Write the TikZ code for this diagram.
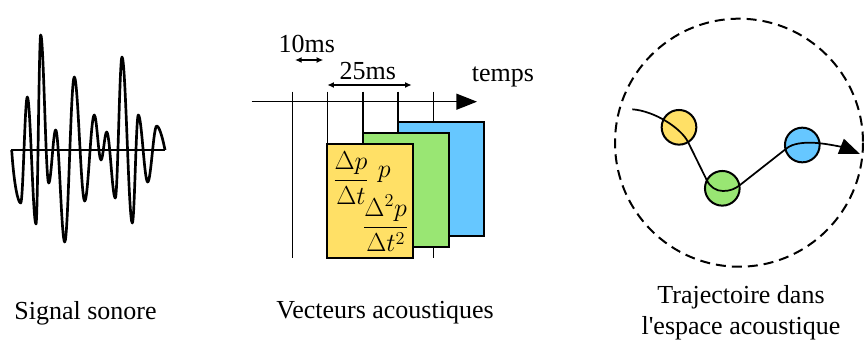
\RequirePackage{fix-cm}
\documentclass[tikz,border=0pt]{standalone}
\usepackage{amsmath}
\usepackage{fontspec}
\setmainfont{Liberation Serif}
\usepackage{tikz}
\usetikzlibrary{arrows.meta,positioning}
\definecolor{vecyellow}{HTML}{FFE066}
\definecolor{vecgreen}{HTML}{99E673}
\definecolor{vecblue}{HTML}{66C7FF}
\tikzset{
  lbl/.style={font=\fontsize{19.5}{23}\selectfont, inner sep=0pt},
  vecbox/.style={draw, line width=1.5pt},
  thin line/.style={line width=1.1pt},
  bigtip/.style={-{Triangle[length=15.5pt,width=12pt]}},
  dimarrow/.style={line width=1.1pt, {Latex[length=5pt,width=4.5pt]}-{Latex[length=5pt,width=4.5pt]}},
  state/.style={circle, draw, line width=1.5pt, minimum size=26pt, inner sep=0pt},
}
\begin{document}
\begin{tikzpicture}[x=0.75pt, y=-0.75pt]
\useasboundingbox (0,0) rectangle (864,343);

% Signal sonore
\draw[thin line] (11,150) -- (165,150);
\draw[line width=2pt, line join=round]
  (11.7,150) .. controls (14,185) and (18,203) .. (20.7,203)
  \foreach \x/\y/\d in {27.3/97/2.4, 36/224/3.1, 40.7/35/1.7, 48.7/183/2.9, 55.7/130/2.5,
      64.7/242/3.2, 74.3/77/3.5, 84.7/201/3.7, 94.3/115/3.5, 101/160/2.4, 106.7/132/2.1,
      115.3/198/3.1, 122/57/2.4, 132.3/223/3.7, 138.3/115/2.2, 147.7/182/3.4, 156.7/126/3.2} {
    .. controls +(\d,0) and +(-\d,0) .. (\x,\y)
  }
  .. controls +(3,0) and (163.5,142) .. (165,150);
\node[lbl] (signal) at (85.5,313) {Signal sonore};

% Vecteurs acoustiques
\foreach \i in {0,...,4} {
    \draw[thin line] (292.3+35.25*\i, 91.7) -- (292.3+35.25*\i, 258);
}
\draw[thin line, bigtip] (251.7,101.7) -- (477,101.7);
\node[lbl] (temps) at (503,76.7) {temps};

\foreach \i/\c in {2/vecblue, 1/vecgreen, 0/vecyellow} {
    \draw[vecbox, fill=\c] (327.3+35.25*\i, 144.3-11.3*\i) rectangle ++(86,114);
}

% durations
\draw[dimarrow] (295,60) -- (323.3,60);
\node[lbl] (trame) at (306.7,44) {10ms};
\draw[dimarrow] (327.3,85) -- (411.7,85);
\node[lbl] (fenetre) at (367.7,70.7) {25ms};

% coefficients
\node[lbl] (dpdt) at (351,178) {$\dfrac{\Delta p}{\Delta t}$};
\node[lbl] (p) at (384.3,174) {$p$};
\node[lbl] (d2pdt2) at (385.7,223.3) {$\dfrac{\Delta^2 p}{\Delta t^2}$};
\node[lbl] (vecteurs) at (385,313) {Vecteurs acoustiques};

% Trajectoire
\draw[line width=1.5pt, dash pattern=on 7.5pt off 4.5pt] (739,142.7) circle (124);
\node[state, fill=vecyellow] (v1) at (679,127.3) {};
\node[state, fill=vecgreen] (v2) at (722.3,188.3) {};
\node[state, fill=vecblue] (v3) at (802.3,145) {};
\draw[line width=1.3pt, bigtip]
  (632.3,109.3) .. controls (655,111) and (681.4,128.5) .. (688,142)
  -- (706.7,180) .. controls (710,187) and (716,191) .. (723,191)
  .. controls (730,191) and (735,189) .. (740,185)
  -- (786.7,148.3) .. controls (793,143.3) and (803,142.7) .. (810,142.7)
  .. controls (825,142.7) and (845,148) .. (860,154);
\node[lbl, align=center] (espace) at (741,313) {Trajectoire dans\\l\textquotesingle espace acoustique};

\end{tikzpicture}
\end{document}
